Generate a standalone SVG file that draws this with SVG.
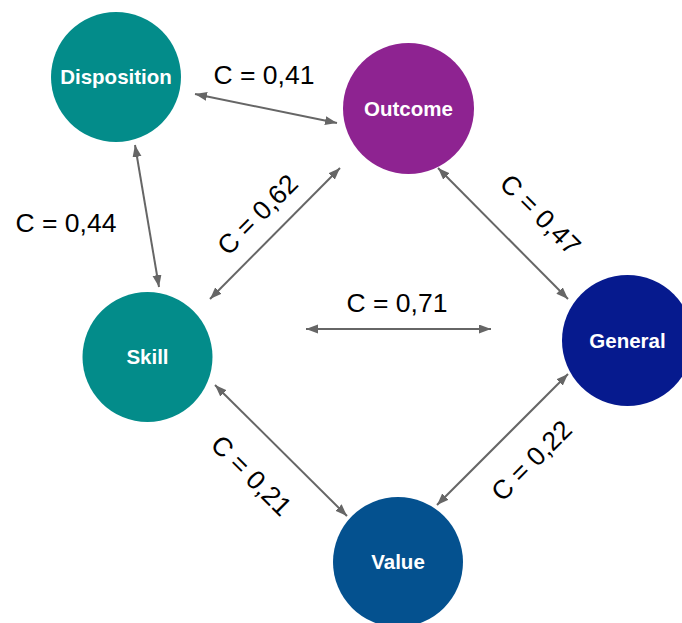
<svg xmlns="http://www.w3.org/2000/svg" width="682" height="623" viewBox="0 0 682 623">
<style>
.node text{font-family:"Liberation Sans",Arial,sans-serif;font-weight:bold;font-size:20.5px;fill:#fff;text-anchor:middle}
.lbl{font-family:"Liberation Sans",Arial,sans-serif;font-size:26.5px;fill:#000;text-anchor:middle}
.edge{stroke:#666;stroke-width:2;fill:none;marker-start:url(#ah);marker-end:url(#ah)}
</style>
<defs>
<marker id="ah" markerUnits="userSpaceOnUse" markerWidth="13" markerHeight="10" refX="12" refY="4.5" orient="auto-start-reverse">
<path d="M0,0 L12,4.5 L0,9 z" fill="#666"/>
</marker>
</defs>
<rect width="682" height="623" fill="#fff"/>
<g id="connectors">
<line class="edge" x1="195" y1="94" x2="337" y2="123"/>
<line class="edge" x1="135" y1="145" x2="159" y2="287"/>
<line class="edge" x1="340" y1="168" x2="210" y2="299"/>
<line class="edge" x1="438" y1="168" x2="568" y2="299"/>
<line class="edge" x1="306" y1="329" x2="491" y2="329"/>
<line class="edge" x1="215" y1="385" x2="347" y2="516"/>
<line class="edge" x1="568" y1="374" x2="437" y2="505"/>
<text class="lbl" x="264" y="84">C = 0,41</text>
<text class="lbl" x="66" y="232">C = 0,44</text>
<text class="lbl" x="397" y="312">C = 0,71</text>
<text class="lbl" transform="translate(264,221) rotate(-45)">C = 0,62</text>
<text class="lbl" transform="translate(534,221) rotate(45)">C = 0,47</text>
<text class="lbl" transform="translate(538,467) rotate(-45)">C = 0,22</text>
<text class="lbl" transform="translate(245,482) rotate(45)">C = 0,21</text>
</g>
<g id="disposition" class="node"><circle cx="116" cy="77" r="65" fill="#038C8A"/><text x="116" y="84">Disposition</text></g>
<g id="outcome" class="node"><circle cx="408.5" cy="108.5" r="65.5" fill="#8E2391"/><text x="408.5" y="116">Outcome</text></g>
<g id="skill" class="node"><circle cx="147.5" cy="357" r="65" fill="#038C8A"/><text x="147.5" y="364">Skill</text></g>
<g id="general" class="node"><circle cx="627.5" cy="340.5" r="65.5" fill="#061A8E"/><text x="627.5" y="348">General</text></g>
<g id="value" class="node"><circle cx="398" cy="562" r="65" fill="#04518F"/><text x="398" y="569">Value</text></g>
</svg>
